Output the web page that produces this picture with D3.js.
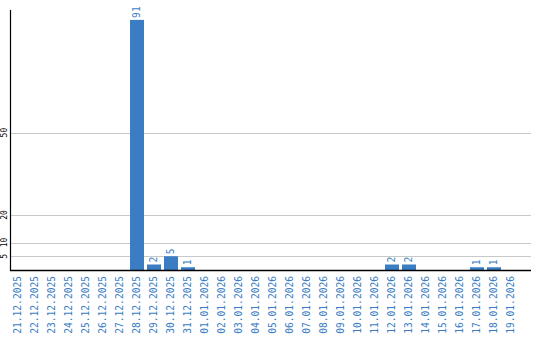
<!DOCTYPE html>
<html>
<head>
<meta charset="utf-8">
<script src="https://cdn.jsdelivr.net/npm/d3@7"></script>
<style>
  body { margin: 0; background: #fff; }
  svg { display: block; }
  text { font-family: "DejaVu Sans Mono", "Liberation Mono", monospace; }
</style>
</head>
<body>
<svg id="chart" width="540" height="340"></svg>
<script>
const dates = [
  '21.12.2025','22.12.2025','23.12.2025','24.12.2025','25.12.2025','26.12.2025','27.12.2025',
  '28.12.2025','29.12.2025','30.12.2025','31.12.2025',
  '01.01.2026','02.01.2026','03.01.2026','04.01.2026','05.01.2026','06.01.2026','07.01.2026',
  '08.01.2026','09.01.2026','10.01.2026','11.01.2026','12.01.2026','13.01.2026','14.01.2026',
  '15.01.2026','16.01.2026','17.01.2026','18.01.2026','19.01.2026'
];
const counts = [0,0,0,0,0,0,0, 91,2,5,1, 0,0,0,0,0,0,0, 0,0,0,0,2,2,0, 0,0,1,1,0];
const yTicks = [5, 10, 20, 50];
const yMax = 94.6;

const blue = '#3a7dc3';
const plotLeft = 10, plotRight = 531, plotTop = 10, plotBottom = 270;

const svg = d3.select('#chart');

const x = d3.scaleBand().domain(dates).range([9.5, 519.5]).paddingInner(3/17).paddingOuter(1.5/17);
const y = d3.scaleLinear().domain([0, yMax]).range([plotBottom, plotTop]);

// grid lines
svg.append('g').selectAll('line').data(yTicks).enter().append('line')
  .attr('x1', plotLeft).attr('x2', plotRight)
  .attr('y1', d => Math.round(y(d)) + 0.5).attr('y2', d => Math.round(y(d)) + 0.5)
  .attr('stroke', '#c8c8c8').attr('stroke-width', 1);

// y tick labels
svg.append('g').selectAll('text').data(yTicks).enter().append('text')
  .attr('transform', d => `translate(6.5,${y(d)}) rotate(-90)`)
  .attr('text-anchor', 'middle')
  .attr('font-size', 8)
  .attr('fill', '#000')
  .text(d => d);

// bars
svg.append('g').selectAll('rect').data(counts).enter().append('rect')
  .attr('x', (d, i) => Math.round(x(dates[i])))
  .attr('width', Math.round(x.bandwidth()))
  .attr('y', d => y(d))
  .attr('height', d => plotBottom - y(d))
  .attr('fill', blue);

// value labels
svg.append('g').selectAll('text').data(counts.map((v, i) => ({v, i})).filter(d => d.v > 0)).enter().append('text')
  .attr('transform', d => `translate(${x(dates[d.i]) + x.bandwidth() / 2},${y(d.v) - 2}) rotate(-90)`)
  .attr('dy', '0.35em')
  .attr('text-anchor', 'start')
  .attr('font-size', 9.6)
  .attr('fill', blue)
  .text(d => d.v);

// axes lines
svg.append('line').attr('x1', plotLeft + 0.5).attr('x2', plotLeft + 0.5).attr('y1', plotTop).attr('y2', plotBottom + 1)
  .attr('stroke', '#000').attr('stroke-width', 1.2);
svg.append('line').attr('x1', plotLeft).attr('x2', plotRight).attr('y1', plotBottom + 0.5).attr('y2', plotBottom + 0.5)
  .attr('stroke', '#000').attr('stroke-width', 1.6);

// x labels
svg.append('g').selectAll('text').data(dates).enter().append('text')
  .attr('transform', d => `translate(${x(d) + x.bandwidth() / 2},276) rotate(-90)`)
  .attr('dy', '0.35em')
  .attr('text-anchor', 'end')
  .attr('font-size', 9.6)
  .attr('fill', blue)
  .text(d => d);
</script>
</body>
</html>
